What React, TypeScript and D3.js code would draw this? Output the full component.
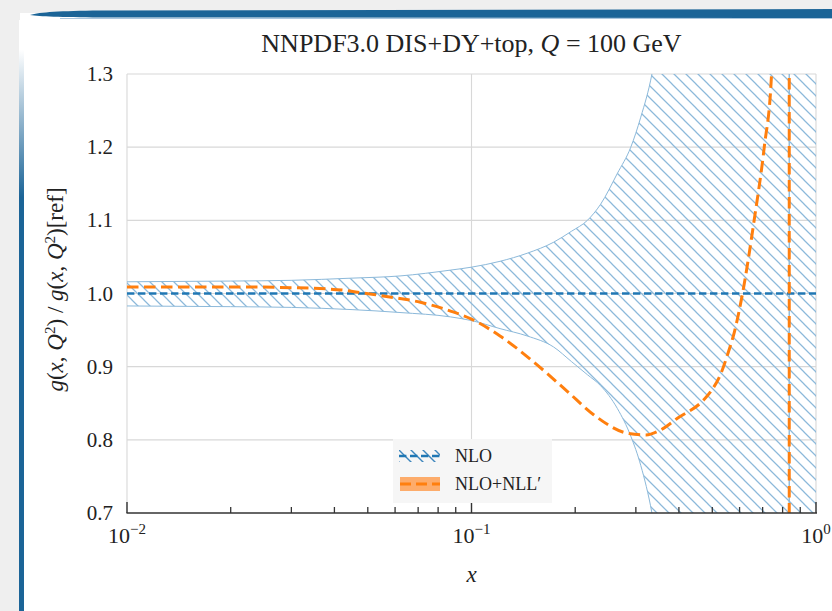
import React from "react";
import * as d3 from "d3";

// ---- data ----
const bandX = [0.01, 0.02, 0.03, 0.045, 0.062, 0.087, 0.1, 0.121, 0.145, 0.173, 0.195, 0.217, 0.237, 0.265, 0.29, 0.31, 0.334, 0.36, 0.4, 0.5, 0.7, 0.836, 0.8365, 0.9, 1.0];
const bandUpper = [1.016, 1.017, 1.018, 1.021, 1.024, 1.032, 1.036, 1.044, 1.055, 1.07, 1.085, 1.1, 1.122, 1.164, 1.2, 1.241, 1.3, 1.4, 1.6, 2.5, 5, 100, -100, -100, -100];
const bandLower = [0.983, 0.982, 0.981, 0.978, 0.974, 0.968, 0.963, 0.952, 0.942, 0.927, 0.907, 0.889, 0.874, 0.843, 0.805, 0.765, 0.7, 0.6, 0.4, -0.5, -3, -100, 100, 100, 100];

const nllX = [0.01, 0.02, 0.03, 0.0426, 0.0496, 0.0585, 0.0711, 0.0869, 0.1, 0.121, 0.151, 0.19, 0.2267, 0.2836, 0.3207, 0.354, 0.396, 0.473, 0.5, 0.53, 0.555, 0.58, 0.612, 0.6614, 0.7076, 0.743, 0.78, 0.82, 0.836, 0.8365, 0.87, 0.95, 1.0];
const nllY = [1.009, 1.009, 1.008, 1.0045, 1.0, 0.995, 0.988, 0.976, 0.965, 0.942, 0.907, 0.866, 0.834, 0.809, 0.8067, 0.8135, 0.8295, 0.855, 0.869, 0.891, 0.918, 0.948, 1.0, 1.1, 1.2, 1.3, 1.6, 3, 100, -100, -5, -1, 0];

const nloX = [0.01, 1.0];
const nloY = [1.0, 1.0];

const yTicks = [0.7, 0.8, 0.9, 1.0, 1.1, 1.2, 1.3];
const yTickLabels = ["0.7", "0.8", "0.9", "1.0", "1.1", "1.2", "1.3"];
const xMajor = [0.01, 0.1, 1];
const xMajorExp = ["−2", "−1", "0"];
const legendLabels = ["NLO", "NLO+NLL′"];

const W = 832, H = 611;
const L = 127, R = 816, T = 74, B = 513;

export default function App() {
  const x = d3.scaleLog().domain([0.01, 1]).range([L, R]);
  const y = d3.scaleLinear().domain([0.7, 1.3]).range([B, T]);

  const minor: number[] = [];
  for (const dec of [0.01, 0.1]) for (let k = 2; k <= 9; k++) minor.push(dec * k);

  const band = d3.area<number>()
    .x((_, i) => x(bandX[i]))
    .y0((_, i) => y(bandLower[i]))
    .y1((_, i) => y(bandUpper[i]))
    .curve(d3.curveMonotoneX)(bandX);
  const upLine = d3.line<number>().x((_, i) => x(bandX[i])).y((_, i) => y(bandUpper[i])).curve(d3.curveMonotoneX)(bandX);
  const loLine = d3.line<number>().x((_, i) => x(bandX[i])).y((_, i) => y(bandLower[i])).curve(d3.curveMonotoneX)(bandX);
  const nllLine = d3.line<number>().x((_, i) => x(nllX[i])).y((_, i) => y(nllY[i])).curve(d3.curveMonotoneX)(nllX);
  const nloLine = d3.line<number>().x((_, i) => x(nloX[i])).y((_, i) => y(nloY[i]))(nloX);

  const serif = "'Liberation Serif', 'Times New Roman', serif";
  const blue = "#1f77b4";
  const orange = "#ff7f0e";
  const hatchCol = "#8cb9da";
  const axisCol = "#333333";

  const legX = 393, legY = 439;
  const hs = 12;

  return (
    <div style={{ position: "fixed", left: 0, top: 0, width: W, height: H }}>
      <svg width={W} height={H} style={{ display: "block" }} fontFamily={serif}>
        <defs>
          <pattern id="hatch" patternUnits="userSpaceOnUse" width={hs} height={hs}>
            <path d={`M-1,-1L${hs + 1},${hs + 1}M-1,${hs - 1}L1,${hs + 1}M${hs - 1},-1L${hs + 1},1`} stroke={hatchCol} strokeWidth={1.25} />
          </pattern>
          <pattern id="hatchLeg" patternUnits="userSpaceOnUse" width={hs} height={hs} x={legX + 6} y={legY + 11}>
            <path d={`M-1,-1L${hs + 1},${hs + 1}M-1,${hs - 1}L1,${hs + 1}M${hs - 1},-1L${hs + 1},1`} stroke="#3d86bd" strokeWidth={1.4} />
          </pattern>
          <clipPath id="plotClip">
            <rect x={L} y={T} width={R - L} height={B - T} />
          </clipPath>
          <linearGradient id="sideGrad" x1="0" y1="0" x2="0" y2="1">
            <stop offset="0" stopColor="#ffffff" />
            <stop offset="0.05" stopColor="#ffffff" />
            <stop offset="0.3" stopColor="#1b6497" />
            <stop offset="1" stopColor="#1b6497" />
          </linearGradient>
        </defs>

        {/* frame */}
        <rect x={0} y={0} width={W} height={H} fill="#efefef" />
        <rect x={20} y={13} width={W - 20} height={H - 13} fill="#ffffff" />
        <rect x={19} y={20} width={5} height={H - 20} fill="url(#sideGrad)" />
        <path d="M30,15 C40,12 60,11 100,10.5 L832,9 L832,18 L100,17.5 C60,17 40,16.5 30,15 Z" fill="#1b6497" />
        <line x1={60} x2={W} y1={18.5} y2={18.5} stroke="#a9c5dd" strokeWidth={1} />

        {/* grid */}
        {yTicks.slice(1).map((t) => (
          <line key={"gy" + t} x1={L} x2={R} y1={y(t)} y2={y(t)} stroke="#d8d8d8" strokeWidth={1.1} />
        ))}
        {xMajor.map((t) => (
          <line key={"gx" + t} x1={x(t)} x2={x(t)} y1={T} y2={B} stroke="#d8d8d8" strokeWidth={1.1} />
        ))}

        {/* band and curves */}
        <g clipPath="url(#plotClip)">
          <path d={band || ""} fill="url(#hatch)" />
          <path d={upLine || ""} fill="none" stroke={hatchCol} strokeWidth={1} />
          <path d={loLine || ""} fill="none" stroke={hatchCol} strokeWidth={1} />
          <path d={nloLine || ""} fill="none" stroke={blue} strokeWidth={2.5} strokeDasharray="7.4,3.6" />
          <path d={nllLine || ""} fill="none" stroke={orange} strokeWidth={3} strokeDasharray="11.5,5.5" />
        </g>

        {/* x axis */}
        <line x1={L - 0.5} x2={R + 1} y1={B} y2={B} stroke={axisCol} strokeWidth={1.5} />
        {xMajor.map((t) => (
          <line key={"mt" + t} x1={x(t)} x2={x(t)} y1={B} y2={B - 11} stroke={axisCol} strokeWidth={1.4} />
        ))}
        {minor.map((t) => (
          <line key={"mn" + t} x1={x(t)} x2={x(t)} y1={B} y2={B - 6} stroke={axisCol} strokeWidth={1.3} />
        ))}
        {xMajor.map((t, i) => (
          <text key={"xl" + t} x={x(t)} y={543} textAnchor="middle" fontSize={22} fill="#222">
            10<tspan dy={-9} fontSize={15}>{xMajorExp[i]}</tspan>
          </text>
        ))}
        <text x={(L + R) / 2} y={582} textAnchor="middle" fontSize={23} fontStyle="italic" fill="#222">x</text>

        {/* y tick labels */}
        {yTicks.map((t, i) => (
          <text key={"yl" + t} x={113} y={y(t) + 7} textAnchor="end" fontSize={21} fill="#222">
            {yTickLabels[i]}
          </text>
        ))}

        {/* y label */}
        <text transform={`translate(63,${(T + B) / 2 - 4}) rotate(-90)`} textAnchor="middle" fontSize={23} fill="#222">
          <tspan fontStyle="italic">g</tspan>(<tspan fontStyle="italic">x</tspan>, <tspan fontStyle="italic">Q</tspan>
          <tspan dy={-8} fontSize={15}>2</tspan>
          <tspan dy={8}>) / </tspan>
          <tspan fontStyle="italic">g</tspan>(<tspan fontStyle="italic">x</tspan>, <tspan fontStyle="italic">Q</tspan>
          <tspan dy={-8} fontSize={15}>2</tspan>
          <tspan dy={8}>)[ref]</tspan>
        </text>

        {/* title */}
        <text x={(L + R) / 2} y={52} textAnchor="middle" fontSize={26} fill="#222">
          NNPDF3.0 DIS+DY+top, <tspan fontStyle="italic">Q</tspan> = 100 GeV
        </text>

        {/* legend */}
        <rect x={legX} y={legY} width={159} height={64} fill="#f6f6f6" />
        <rect x={legX + 6} y={legY + 11} width={41} height={12} fill="url(#hatchLeg)" />
        <line x1={legX + 6} x2={legX + 47} y1={legY + 17} y2={legY + 17} stroke={blue} strokeWidth={2.5} strokeDasharray="7.4,3.6" />
        <text x={legX + 62} y={legY + 23} fontSize={18} fill="#222">{legendLabels[0]}</text>
        <rect x={legX + 7} y={legY + 38} width={40} height={14} fill="#fdac6b" />
        <line x1={legX + 7} x2={legX + 47} y1={legY + 45} y2={legY + 45} stroke={orange} strokeWidth={3} strokeDasharray="11,5" />
        <text x={legX + 62} y={legY + 51} fontSize={18} fill="#222">{legendLabels[1]}</text>
      </svg>
    </div>
  );
}
